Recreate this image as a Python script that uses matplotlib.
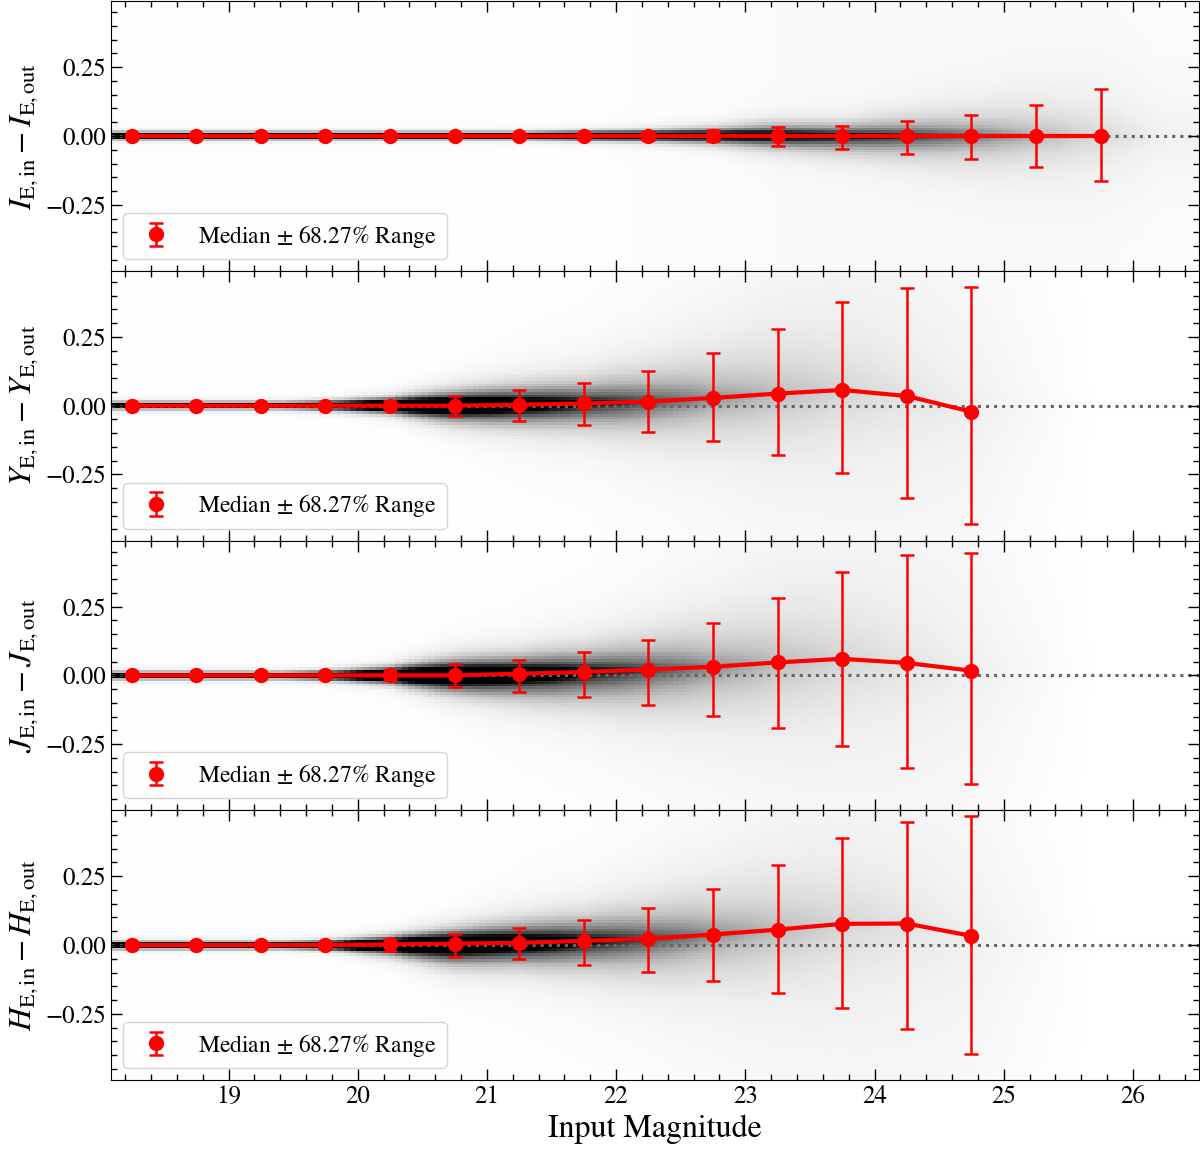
import numpy as np
import matplotlib.pyplot as plt
from matplotlib.ticker import MultipleLocator

plt.rcParams['font.family'] = ['STIXGeneral', 'DejaVu Serif']
plt.rcParams['mathtext.fontset'] = 'stix'

# Magnitude bin centres of the medians
mag_I = [18.25, 18.75, 19.25, 19.75, 20.25, 20.75, 21.25, 21.75,
         22.25, 22.75, 23.25, 23.75, 24.25, 24.75, 25.25, 25.75]
mag_NIR = [18.25, 18.75, 19.25, 19.75, 20.25, 20.75, 21.25, 21.75,
           22.25, 22.75, 23.25, 23.75, 24.25, 24.75]

# Medians and 68.27% range bounds (p16, p84) per band
med_I = [0.0, 0.0, 0.0, 0.0, 0.0, 0.0, 0.0, 0.0,
         0.0, 0.0, 0.0, 0.0, 0.0, 0.0, 0.0, 0.0]
p84_I = [0.003, 0.004, 0.004, 0.005, 0.006, 0.007, 0.008, 0.010,
         0.013, 0.020, 0.033, 0.037, 0.056, 0.078, 0.114, 0.169]
p16_I = [-0.003, -0.004, -0.004, -0.005, -0.006, -0.007, -0.008, -0.010,
         -0.013, -0.020, -0.035, -0.048, -0.065, -0.085, -0.114, -0.162]

med_Y = [0.0, 0.0, 0.0, 0.0, 0.0, 0.0, 0.003, 0.008,
         0.015, 0.028, 0.044, 0.057, 0.035, -0.022]
p84_Y = [0.004, 0.005, 0.007, 0.010, 0.017, 0.035, 0.056, 0.081,
         0.125, 0.191, 0.280, 0.378, 0.428, 0.433]
p16_Y = [-0.004, -0.005, -0.007, -0.010, -0.017, -0.039, -0.054, -0.070,
         -0.097, -0.129, -0.181, -0.245, -0.336, -0.431]

med_J = [0.0, 0.0, 0.0, 0.0, 0.0, 0.0, 0.006, 0.012,
         0.021, 0.031, 0.047, 0.060, 0.045, 0.017]
p84_J = [0.004, 0.005, 0.007, 0.010, 0.018, 0.040, 0.057, 0.085,
         0.128, 0.191, 0.280, 0.377, 0.439, 0.445]
p16_J = [-0.004, -0.005, -0.007, -0.010, -0.018, -0.042, -0.059, -0.080,
         -0.109, -0.146, -0.192, -0.255, -0.337, -0.394]

med_H = [0.0, 0.0, 0.0, 0.0, 0.002, 0.005, 0.008, 0.015,
         0.023, 0.038, 0.056, 0.077, 0.078, 0.033]
p84_H = [0.004, 0.005, 0.007, 0.010, 0.020, 0.040, 0.063, 0.092,
         0.136, 0.203, 0.290, 0.389, 0.447, 0.468]
p16_H = [-0.004, -0.005, -0.007, -0.010, -0.020, -0.044, -0.052, -0.071,
         -0.097, -0.131, -0.173, -0.229, -0.305, -0.396]

# Background density: peak darkness and faint wash per magnitude (read by eye)
shade_mag = [18.25, 18.75, 19.25, 19.75, 20.25, 20.75, 21.25, 21.75, 22.25,
             22.75, 23.25, 23.75, 24.25, 24.75, 25.25, 25.75, 26.25]
peak_I = [3, 3, 3, 3, 3, 3, 3, 3, 2.4, 1.8, 1.4, 1.1, 0.85, 0.6, 0.38, 0.22, 0.1]
peak_Y = [3, 3, 3, 3, 3, 2.2, 1.5, 1.05, 0.75, 0.5, 0.35, 0.24, 0.16, 0.1, 0.04, 0, 0]
peak_J = [3, 3, 3, 3, 3, 2.2, 1.6, 1.1, 0.78, 0.52, 0.35, 0.24, 0.16, 0.1, 0.04, 0, 0]
peak_H = [3, 3, 3, 3, 3, 2.2, 1.6, 1.1, 0.78, 0.52, 0.35, 0.24, 0.16, 0.1, 0.04, 0, 0]
wash_I = [0.015, 0.015, 0.015, 0.015, 0.015, 0.015, 0.02, 0.02, 0.025,
          0.03, 0.04, 0.045, 0.05, 0.05, 0.045, 0.035, 0.025]
wash_NIR = [0.015, 0.015, 0.015, 0.015, 0.015, 0.015, 0.02, 0.02, 0.025,
            0.03, 0.04, 0.04, 0.04, 0.035, 0.015, 0.0, 0.0]

ylabels = [r'$I_{\rm E,in} - I_{\rm E,out}$',
           r'$Y_{\rm E,in} - Y_{\rm E,out}$',
           r'$J_{\rm E,in} - J_{\rm E,out}$',
           r'$H_{\rm E,in} - H_{\rm E,out}$']

panels = [
    (mag_I, med_I, p16_I, p84_I, peak_I, wash_I),
    (mag_NIR, med_Y, p16_Y, p84_Y, peak_Y, wash_NIR),
    (mag_NIR, med_J, p16_J, p84_J, peak_J, wash_NIR),
    (mag_NIR, med_H, p16_H, p84_H, peak_H, wash_NIR),
]

XLIM = (18.09, 26.51)
YLIM = (-0.49, 0.49)


def draw_shade(ax, mags, med, p16, p84, peak, wash):
    """Grey 2D-histogram-like background built from the read values."""
    xe = np.arange(XLIM[0], XLIM[1] + 0.05, 0.05)
    ye = np.arange(YLIM[0], YLIM[1] + 0.005, 0.01)
    xc = 0.5 * (xe[1:] + xe[:-1])
    yc = 0.5 * (ye[1:] + ye[:-1])
    c = np.interp(xc, mags, med)
    up = np.maximum(np.interp(xc, mags, p84) - c, 0.008)
    dn = np.maximum(c - np.interp(xc, mags, p16), 0.008)
    pk = np.interp(xc, shade_mag, peak)
    wa = np.interp(xc, shade_mag, wash)
    dy = yc[:, None] - c[None, :]
    s = np.where(dy > 0, up[None, :], dn[None, :])
    z = np.abs(dy / s)
    val = pk[None, :] * np.exp(-z / 0.88) + wa[None, :]
    ax.pcolormesh(xe, ye, val, cmap='Greys', vmin=0, vmax=1,
                  shading='flat', rasterized=True, zorder=0)


fig, axes = plt.subplots(4, 1, figsize=(12, 11.5), sharex=True,
                         gridspec_kw=dict(hspace=0))
fig.subplots_adjust(left=0.0925, right=0.999, top=0.999, bottom=0.061)

for ax, (mags, med, p16, p84, peak, wash), lab in zip(axes, panels, ylabels):
    draw_shade(ax, mags, med, p16, p84, peak, wash)
    ax.axhline(0, color='0.4', ls=':', lw=2.2, zorder=1)
    med = np.array(med)
    yerr = [med - np.array(p16), np.array(p84) - med]
    ax.plot(mags, med, color='red', lw=3, zorder=3)
    ax.errorbar(mags, med, yerr=yerr, fmt='o', color='red', ms=10,
                elinewidth=1.8, capsize=5, capthick=1.8, zorder=4,
                label=r'Median $\pm$ 68.27% Range')
    ax.set_xlim(*XLIM)
    ax.set_ylim(*YLIM)
    ax.set_ylabel(lab, fontsize=23)
    ax.yaxis.set_major_locator(MultipleLocator(0.25))
    ax.yaxis.set_minor_locator(MultipleLocator(0.05))
    ax.xaxis.set_major_locator(MultipleLocator(1))
    ax.xaxis.set_minor_locator(MultipleLocator(0.2))
    ax.tick_params(which='both', direction='in', top=True, right=True,
                   labelsize=18)
    ax.tick_params(which='major', length=8, width=1)
    ax.tick_params(which='minor', length=4, width=1)
    ax.legend(loc='lower left', fontsize=17, framealpha=0.8)

axes[-1].set_xlabel('Input Magnitude', fontsize=23)

fig.savefig('out.png', dpi=100)
